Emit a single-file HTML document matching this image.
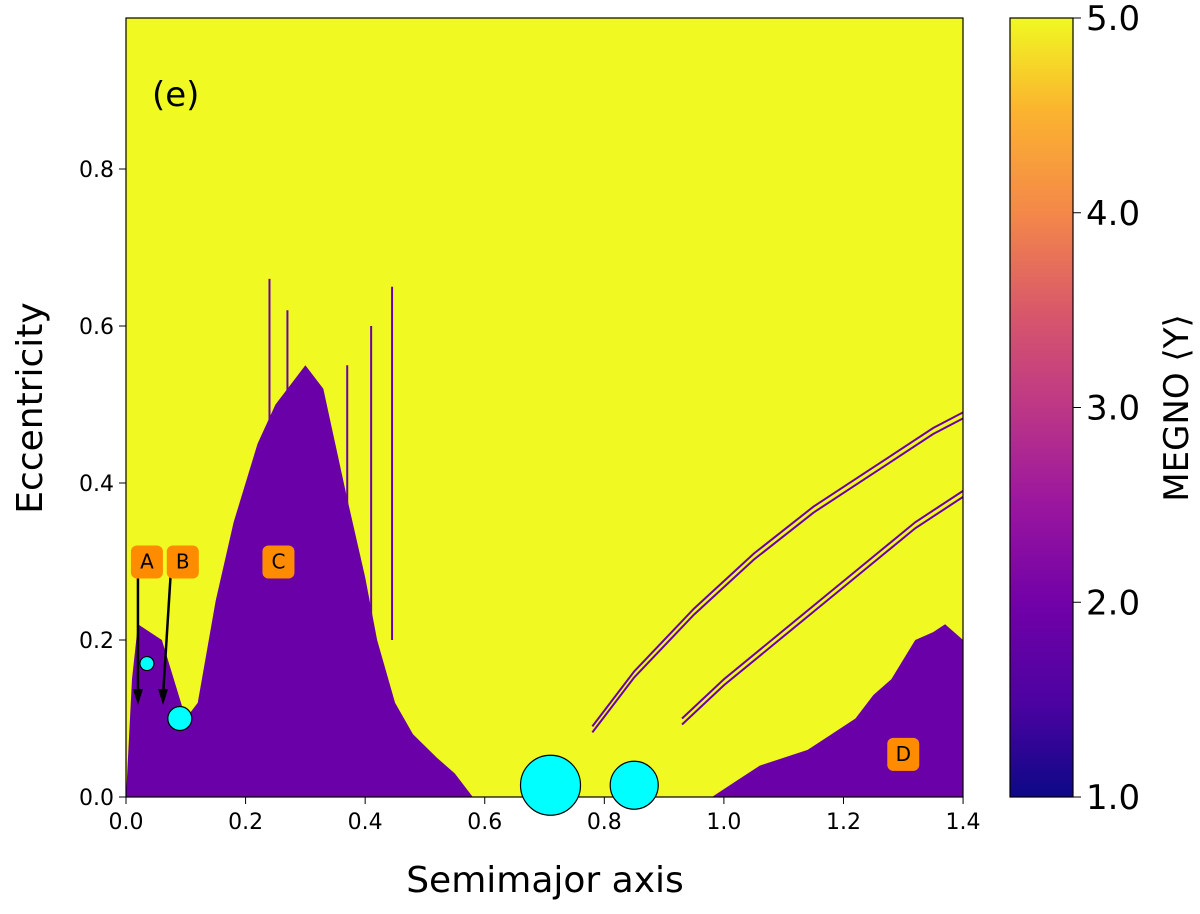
<!DOCTYPE html>
<html><head><meta charset="utf-8"><style>
body{margin:0;background:#fff;font-family:"Liberation Sans","DejaVu Sans",sans-serif}
</style></head><body>
<svg id="chart" width="1200" height="909" xmlns="http://www.w3.org/2000/svg" font-family="DejaVu Sans, Liberation Sans, sans-serif">
<defs>
<linearGradient id="plasma" x1="0" y1="1" x2="0" y2="0">
<stop offset="0" stop-color="#0d0887"/><stop offset="0.12" stop-color="#4c02a1"/><stop offset="0.25" stop-color="#7201a8"/><stop offset="0.38" stop-color="#9c179e"/><stop offset="0.5" stop-color="#bd3786"/><stop offset="0.62" stop-color="#d8576b"/><stop offset="0.75" stop-color="#f48849"/><stop offset="0.88" stop-color="#fbb32f"/><stop offset="1" stop-color="#f0f921"/>
</linearGradient>
<clipPath id="pc"><rect x="126" y="18" width="837" height="779"/></clipPath>
</defs>
<g id="plot"></g>
</svg>
<script>
const envC_a=[0.0,0.01,0.02,0.04,0.06,0.08,0.1,0.12,0.15,0.18,0.2,0.22,0.25,0.28,0.3,0.33,0.35,0.37,0.4,0.42,0.45,0.48,0.52,0.55,0.58];
const envC_e=[0.0,0.15,0.22,0.21,0.2,0.15,0.1,0.12,0.25,0.35,0.4,0.45,0.5,0.53,0.55,0.52,0.45,0.38,0.28,0.2,0.12,0.08,0.05,0.03,0.0];
const envD_a=[0.98,1.02,1.06,1.1,1.14,1.18,1.22,1.25,1.28,1.32,1.35,1.37,1.4];
const envD_e=[0.0,0.02,0.04,0.05,0.06,0.08,0.1,0.13,0.15,0.2,0.21,0.22,0.2];
const spikes_a=[0.41,0.445,0.37,0.24,0.27];
const spikes_e=[0.6,0.65,0.55,0.66,0.62];
const arc1_a=[0.78,0.85,0.95,1.05,1.15,1.25,1.35,1.4];
const arc1_e=[0.09,0.16,0.24,0.31,0.37,0.42,0.47,0.49];
const arc2_a=[0.93,1.0,1.08,1.16,1.24,1.32,1.4];
const arc2_e=[0.1,0.15,0.2,0.25,0.3,0.35,0.39];
const planets_a=[0.035,0.09,0.71,0.85];
const planets_e=[0.17,0.1,0.015,0.015];
const planets_r=[7,12,30,24];
const labels=["A","B","C","D"];
const labels_a=[0.035,0.095,0.255,1.3];
const labels_e=[0.3,0.3,0.3,0.055];
const xticks=[0.0,0.2,0.4,0.6,0.8,1.0,1.2,1.4];
const yticks=[0.0,0.2,0.4,0.6,0.8];
const cticks=[1.0,2.0,3.0,4.0,5.0];
const X=a=>126+a*597.9, Y=e=>797-e*785, C=v=>797-(v-1)/4*779;
const NS="http://www.w3.org/2000/svg", svg=document.getElementById('chart'), g=document.getElementById('plot');
function mk(t,at,p){const el=document.createElementNS(NS,t);for(const k in at)el.setAttribute(k,at[k]);(p||svg).appendChild(el);return el;}
const bg=mk('rect',{x:126,y:18,width:837,height:779,fill:'#f0f921'},g);


const cl=mk('g',{'clip-path':'url(#pc)'},g);
function env(A,E,name){let d='M'+X(A[0])+','+Y(0);A.forEach((a,i)=>d+=' L'+X(a)+','+Y(E[i]));d+=' L'+X(A[A.length-1])+','+Y(0)+'Z';
const p=mk('path',{d:d,fill:'#6a00a8'},cl);}
env(envC_a,envC_e,'stable-region-c');
env(envD_a,envD_e,'stable-region-d');
spikes_a.forEach((a,i)=>{const l=mk('line',{x1:X(a),x2:X(a),y1:Y(0.2),y2:Y(spikes_e[i]),stroke:'#6a00a8','stroke-width':2},cl);

});
function arc(A,E,off,name){let d='';A.forEach((a,i)=>d+=(i?' L':'M')+X(a)+','+(Y(E[i])+off));
const p=mk('path',{d:d,fill:'none',stroke:'#6a00a8','stroke-width':2},cl);}
arc(arc1_a,arc1_e,0,'resonance-arc-1');arc(arc1_a,arc1_e,6,'resonance-arc-1b');
arc(arc2_a,arc2_e,0,'resonance-arc-2');arc(arc2_a,arc2_e,6,'resonance-arc-2b');
const fr=mk('rect',{x:126,y:18,width:837,height:779,fill:'none',stroke:'#000','stroke-width':1.2});


[[0.02,0.3,0.02,0.13],[0.075,0.3,0.062,0.13]].forEach(v=>{
const l=mk('line',{x1:X(v[0]),y1:Y(v[1])+10,x2:X(v[2]),y2:Y(v[3]),stroke:'#000','stroke-width':2.5});


const tx=X(v[2]),ty=Y(v[3])+10;
const h=mk('polygon',{points:`${tx},${ty} ${tx-5},${ty-16} ${tx+5},${ty-16}`,fill:'#000'});

});
planets_a.forEach((a,i)=>{const c=mk('circle',{cx:X(a),cy:Y(planets_e[i]),r:planets_r[i],fill:'#00ffff',stroke:'#000','stroke-width':1.2});

});
labels.forEach((s,i)=>{const x=X(labels_a[i]),y=Y(labels_e[i]);
const r=mk('rect',{x:x-16,y:y-16,width:32,height:33,rx:6,fill:'#ff8c00'});


const t=mk('text',{x:x,y:y+7,'text-anchor':'middle','font-size':20,fill:'#000'});t.textContent=s;

});
const pl=mk('text',{x:152,y:106,'font-size':34});pl.textContent='(e)';


xticks.forEach(v=>{mk('line',{x1:X(v),x2:X(v),y1:797,y2:804,stroke:'#000'});
const t=mk('text',{x:X(v),y:829,'text-anchor':'middle','font-size':22});t.textContent=v.toFixed(1);

});
yticks.forEach(v=>{mk('line',{x1:119,x2:126,y1:Y(v),y2:Y(v),stroke:'#000'});
const t=mk('text',{x:114,y:Y(v)+8,'text-anchor':'end','font-size':22});t.textContent=v.toFixed(1);

});
const xt=mk('text',{x:545,y:892,'text-anchor':'middle','font-size':36});xt.textContent='Semimajor axis';


const yt=mk('text',{x:42,y:408,'text-anchor':'middle','font-size':36,transform:'rotate(-90 42 408)'});yt.textContent='Eccentricity';


const cb=mk('rect',{x:1010,y:18,width:63,height:779,fill:'url(#plasma)',stroke:'#000','stroke-width':1.2});


cticks.forEach(v=>{mk('line',{x1:1073,x2:1081,y1:C(v),y2:C(v),stroke:'#000'});
const t=mk('text',{x:1086,y:C(v)+12,'font-size':34});t.textContent=v.toFixed(1);

});
const ct=mk('text',{x:1188,y:408,'text-anchor':'middle','font-size':34,transform:'rotate(-90 1188 408)'});ct.textContent='MEGNO ⟨Y⟩';


</script>
</body></html>
